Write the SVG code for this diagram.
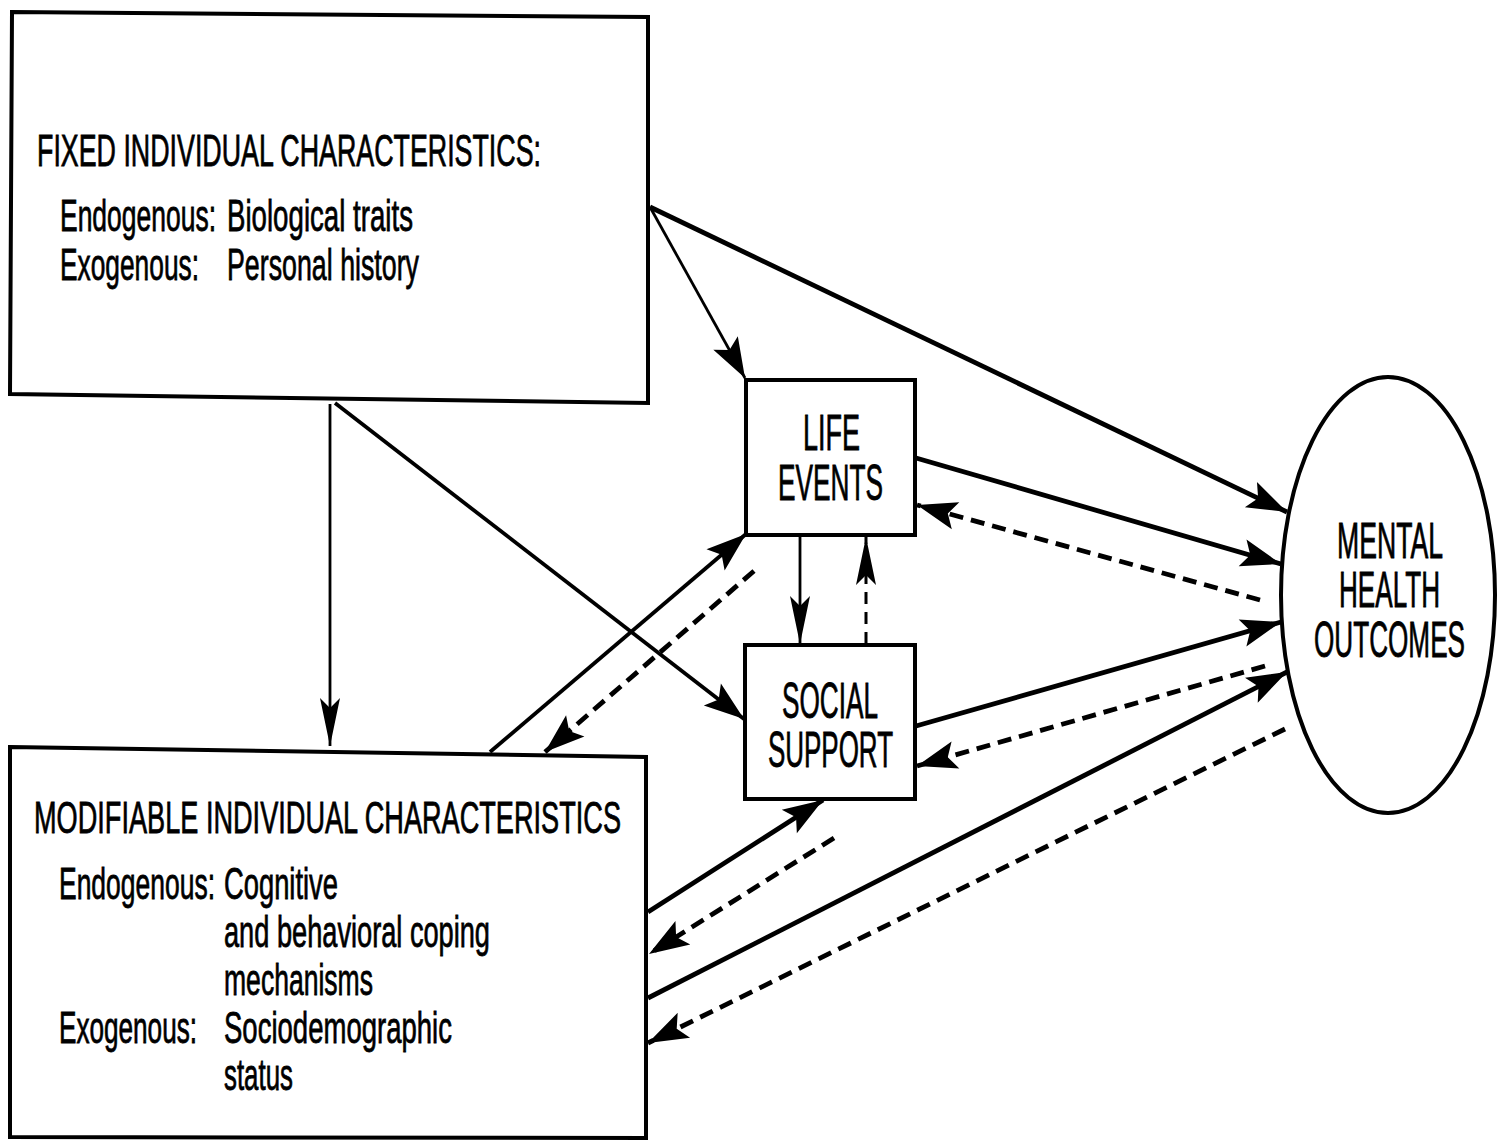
<svg xmlns="http://www.w3.org/2000/svg" width="1500" height="1142" viewBox="0 0 1500 1142">
  <style>
    .box { fill: #fff; stroke: #000; stroke-width: 4; stroke-linejoin: miter; }
    .txt { font-family: "Liberation Sans", Arial, sans-serif; fill: #000; stroke: #000; stroke-width: 0.8; }
    .body { font-size: 45px; }
    .lbl { font-size: 50px; }
    .thin { fill: none; stroke: #000; stroke-width: 2.8; }
    .mid { fill: none; stroke: #000; stroke-width: 3.8; }
    .thick { fill: none; stroke: #000; stroke-width: 4.8; }
    .dash { fill: none; stroke: #000; stroke-width: 4.8; stroke-dasharray: 14 8; }
    .dashthin { fill: none; stroke: #000; stroke-width: 3; stroke-dasharray: 12 8; }
    .a { marker-end: url(#ah); }
    .n { marker-end: url(#nh); }
  </style>
  <defs>
    <!-- broad barbed arrowhead, tip at the path end -->
    <marker id="ah" markerUnits="userSpaceOnUse" markerWidth="46" markerHeight="34" viewBox="-42 -17 46 34" refX="0" refY="0" orient="auto">
      <path d="M0,0 L-40,-14 L-32,0 L-40,14 Z" fill="#000"/>
    </marker>
    <!-- narrow arrowhead for the vertical links -->
    <marker id="nh" markerUnits="userSpaceOnUse" markerWidth="54" markerHeight="26" viewBox="-50 -13 54 26" refX="0" refY="0" orient="auto">
      <path d="M0,0 L-48,-10 L-38,0 L-48,10 Z" fill="#000"/>
    </marker>
  </defs>

  <g id="fixed">
    <polygon class="box" points="12,12 648,17 648,403 10,394"/>
    <text class="txt body" x="37" y="166" textLength="504" lengthAdjust="spacingAndGlyphs">FIXED INDIVIDUAL CHARACTERISTICS:</text>
    <text class="txt body" x="60" y="231" textLength="156" lengthAdjust="spacingAndGlyphs">Endogenous:</text>
    <text class="txt body" x="227" y="231" textLength="186" lengthAdjust="spacingAndGlyphs">Biological traits</text>
    <text class="txt body" x="60" y="280" textLength="139" lengthAdjust="spacingAndGlyphs">Exogenous:</text>
    <text class="txt body" x="227" y="280" textLength="192" lengthAdjust="spacingAndGlyphs">Personal history</text>
  </g>

  <g id="modifiable">
    <polygon class="box" points="10,747 646,757 646,1138 10,1137"/>
    <text class="txt body" x="34" y="833" textLength="587" lengthAdjust="spacingAndGlyphs">MODIFIABLE INDIVIDUAL CHARACTERISTICS</text>
    <text class="txt body" x="59" y="899" textLength="156" lengthAdjust="spacingAndGlyphs">Endogenous:</text>
    <text class="txt body" x="224" y="899" textLength="114" lengthAdjust="spacingAndGlyphs">Cognitive</text>
    <text class="txt body" x="224" y="947" textLength="266" lengthAdjust="spacingAndGlyphs">and behavioral coping</text>
    <text class="txt body" x="224" y="995" textLength="149" lengthAdjust="spacingAndGlyphs">mechanisms</text>
    <text class="txt body" x="59" y="1043" textLength="138" lengthAdjust="spacingAndGlyphs">Exogenous:</text>
    <text class="txt body" x="224" y="1043" textLength="228" lengthAdjust="spacingAndGlyphs">Sociodemographic</text>
    <text class="txt body" x="224" y="1090" textLength="69" lengthAdjust="spacingAndGlyphs">status</text>
  </g>

  <g id="life-events">
    <rect class="box" x="746" y="380" width="169" height="155"/>
    <text class="txt lbl" x="803" y="450" textLength="57" lengthAdjust="spacingAndGlyphs">LIFE</text>
    <text class="txt lbl" x="778" y="500" textLength="105" lengthAdjust="spacingAndGlyphs">EVENTS</text>
  </g>

  <g id="social-support">
    <rect class="box" x="745" y="645" width="170" height="154"/>
    <text class="txt lbl" x="782" y="718" textLength="96" lengthAdjust="spacingAndGlyphs">SOCIAL</text>
    <text class="txt lbl" x="768" y="767" textLength="125" lengthAdjust="spacingAndGlyphs">SUPPORT</text>
  </g>

  <g id="mental-health">
    <ellipse class="box" cx="1388" cy="595" rx="107" ry="218"/>
    <text class="txt lbl" x="1337" y="558" textLength="106" lengthAdjust="spacingAndGlyphs">MENTAL</text>
    <text class="txt lbl" x="1339" y="607" textLength="101" lengthAdjust="spacingAndGlyphs">HEALTH</text>
    <text class="txt lbl" x="1314" y="657" textLength="151" lengthAdjust="spacingAndGlyphs">OUTCOMES</text>
  </g>

  <g id="connectors">
    <!-- from fixed characteristics -->
    <path class="thin a" d="M650,207 L745,378"/>
    <path class="thick a" d="M650,207 L1287,512"/>
    <path class="thin n" d="M330,404 L330,746"/>
    <path class="mid a" d="M335,403 L744,719"/>
    <!-- modifiable <-> life events -->
    <path class="mid a" d="M490,752 L746,534"/>
    <path class="dash a" d="M754,571 L545,752"/>
    <!-- life events <-> social support -->
    <path class="thin n" d="M800,537 L800,644"/>
    <path class="dashthin n" d="M866,644 L866,537"/>
    <!-- life events <-> outcomes -->
    <path class="thick a" d="M916,458 L1281,564"/>
    <path class="dash a" d="M1260,600 L917,505"/>
    <!-- social support <-> outcomes -->
    <path class="thick a" d="M916,726 L1281,622"/>
    <path class="dash a" d="M1265,666 L917,766"/>
    <!-- modifiable <-> social support -->
    <path class="thick a" d="M648,912 L823,800"/>
    <path class="dash a" d="M834,838 L649,954"/>
    <!-- modifiable <-> outcomes -->
    <path class="thick a" d="M648,998 L1287,672"/>
    <path class="dash a" d="M1285,729 L648,1043"/>
  </g>
</svg>
